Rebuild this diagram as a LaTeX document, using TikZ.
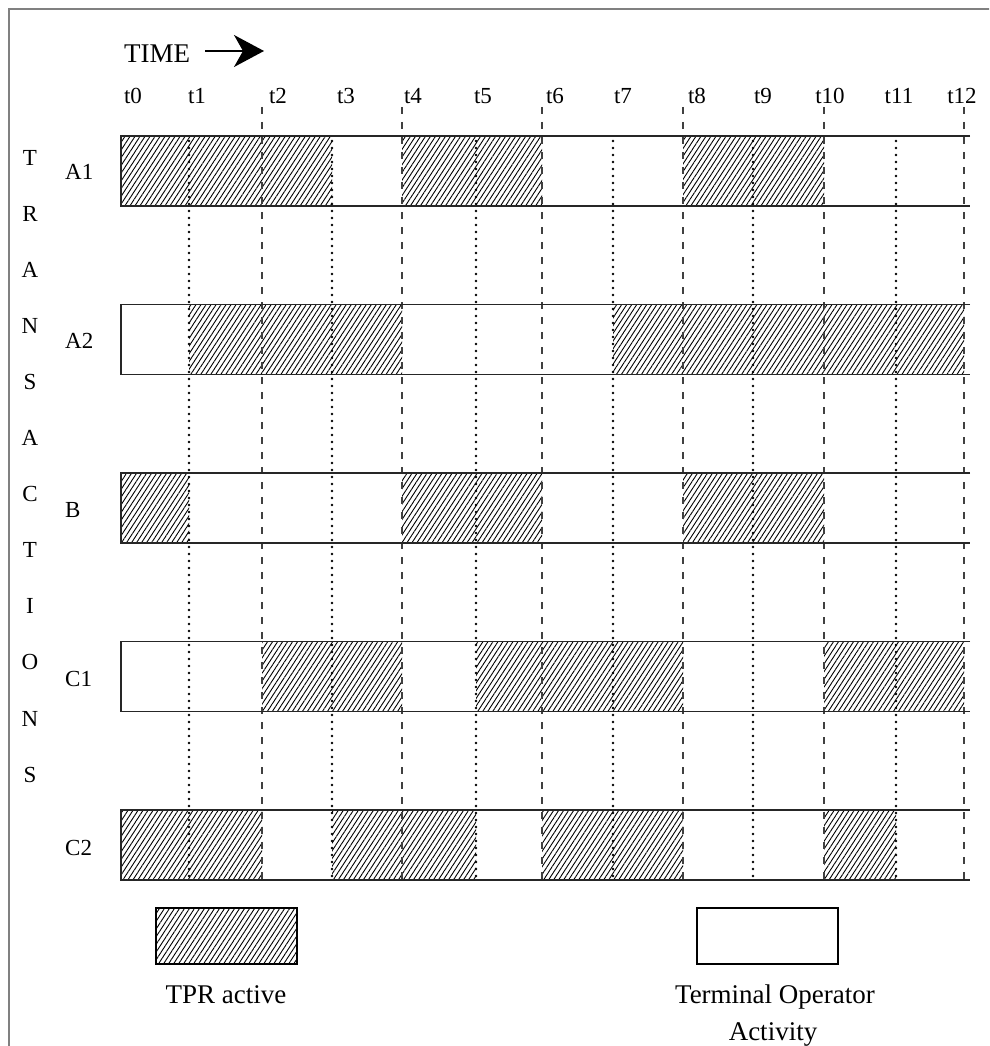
\documentclass[tikz,border=0pt]{standalone}
\usepackage{fontspec}
\setmainfont{Liberation Serif}
\usetikzlibrary{patterns.meta,arrows.meta}
\begin{document}
\begin{tikzpicture}[x=1pt,y=-1pt,
  hatch/.style={pattern={Lines[angle=57,distance=4.2pt,line width=0.9pt]}},
  dashln/.style={line width=1.3pt, black!75, dash pattern=on 7pt off 8pt},
  dotln/.style={line width=2.8pt, line cap=round, dash pattern=on 0pt off 7pt},
  rowln/.style={line width=1.3pt, black!85},
  lbl/.style={inner sep=0pt, anchor=base, font=\fontsize{23}{26}\selectfont},
  big/.style={inner sep=0pt, anchor=base, font=\fontsize{27}{30}\selectfont}]
\useasboundingbox (0,0) rectangle (989,1046);
\clip (0,0) rectangle (989,1046);
\def\T{{121,189,262,332,402,476,542,613,683,753,824,896,964}}
% frame
\draw[gray, line width=2pt] (9,1060) -- (9,9) -- (1000,9);
% hatched periods
\foreach \y/\a/\b in {136/0/3,136/4/6,136/8/10,
                      304.5/1/4,304.5/7/12,
                      473/0/1,473/4/6,473/8/10,
                      641.5/2/4,641.5/5/8,641.5/10/12,
                      810/0/2,810/3/5,810/6/8,810/10/11}
  \fill[hatch] ({\T[\a]},\y) rectangle ({\T[\b]},\y+70);
% time lines
\foreach \i in {2,4,6,8,10,12}
  \draw[dashln] ({\T[\i]},107) -- ({\T[\i]},880);
\foreach \i in {1,3,5,7,9,11}
  \draw[dotln] ({\T[\i]},141) -- ({\T[\i]},880);
% rows
\foreach \y in {136,304.5,473,641.5,810}
  \draw[rowln] (970,\y) -- (121,\y) -- (121,\y+70) -- (970,\y+70);
% time header
\node[big, anchor=base west] (time) at (124,63) {TIME};
\coordinate (arS) at (205,51);
\coordinate (arE) at (264,51);
\draw[line width=1.4pt, -{Stealth[length=30pt,width=32pt,inset=9pt]}] (arS) -- (arE);
\foreach \c [count=\k from 0] in {133,197,278,346,413,483,555,623,697,763,830,899,962}
  \node[lbl] (tl\k) at (\c,103) {t\k};
% left letters
\foreach \L [count=\k from 0] in {T,R,A,N,S,A,C,T,I,O,N,S}
  \node[lbl] (lt\k) at (30,165+56.1*\k) {\L};
% row labels
\node[lbl, anchor=base west] (rA1) at (65,179) {A1};
\node[lbl, anchor=base west] (rA2) at (65,348) {A2};
\node[lbl, anchor=base west] (rB)  at (65,517) {B};
\node[lbl, anchor=base west] (rC1) at (65,686) {C1};
\node[lbl, anchor=base west] (rC2) at (65,855) {C2};
% legend
\node[draw, line width=1.2pt, hatch, minimum width=141pt, minimum height=56pt, inner sep=0pt] (lgA) at (226.5,936) {};
\node[draw, line width=1.2pt, minimum width=141pt, minimum height=56pt, inner sep=0pt] (lgB) at (767.5,936) {};
\node[big] (tA) at (226,1003) {TPR active};
\node[big] (tB1) at (775,1003) {Terminal Operator};
\node[big] (tB2) at (773,1040) {Activity};
\end{tikzpicture}
\end{document}
